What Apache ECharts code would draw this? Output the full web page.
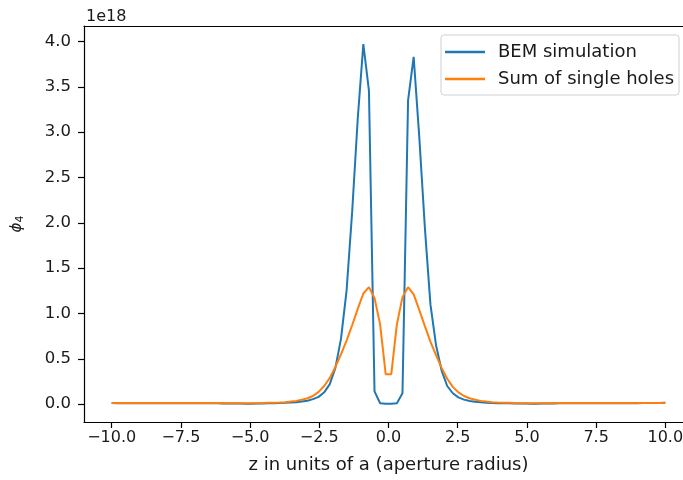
<!DOCTYPE html>
<html>
<head>
<meta charset="utf-8">
<script src="https://cdn.jsdelivr.net/npm/echarts@6/dist/echarts.min.js"></script>
<style>html,body{margin:0;padding:0;background:#fff}#c{width:683px;height:480px}</style>
</head>
<body>
<div id="c"></div>
<script>
// z positions (units of aperture radius a), 100 samples from -10 to 10
const zValues = [-10.000,-9.798,-9.596,-9.394,-9.192,-8.990,-8.788,-8.586,-8.384,-8.182,
  -7.980,-7.778,-7.576,-7.374,-7.172,-6.970,-6.768,-6.566,-6.364,-6.162,
  -5.960,-5.758,-5.556,-5.354,-5.152,-4.949,-4.747,-4.545,-4.343,-4.141,
  -3.939,-3.737,-3.535,-3.333,-3.131,-2.929,-2.727,-2.525,-2.323,-2.121,
  -1.919,-1.717,-1.515,-1.313,-1.111,-0.909,-0.707,-0.505,-0.303,-0.101,
  0.101,0.303,0.505,0.707,0.909,1.111,1.313,1.515,1.717,1.919,
  2.121,2.323,2.525,2.727,2.929,3.131,3.333,3.535,3.737,3.939,
  4.141,4.343,4.545,4.747,4.949,5.152,5.354,5.556,5.758,5.960,
  6.162,6.364,6.566,6.768,6.970,7.172,7.374,7.576,7.778,7.980,
  8.182,8.384,8.586,8.788,8.990,9.192,9.394,9.596,9.798,10.000];

// phi_4 values in units of 1e18
const bemValues = [0.012,0.011,0.011,0.010,0.010,0.010,0.010,0.010,0.010,0.010,
  0.010,0.010,0.010,0.010,0.010,0.010,0.009,0.009,0.009,0.009,
  0.008,0.008,0.007,0.006,0.005,0.005,0.006,0.007,0.009,0.011,
  0.013,0.015,0.018,0.022,0.028,0.038,0.055,0.080,0.130,0.220,
  0.400,0.720,1.250,2.120,3.150,3.970,3.460,0.140,0.010,0.005,
  0.005,0.010,0.120,3.350,3.830,2.950,1.950,1.100,0.650,0.370,
  0.200,0.120,0.075,0.050,0.035,0.026,0.020,0.016,0.013,0.011,
  0.010,0.009,0.008,0.007,0.006,0.005,0.005,0.006,0.007,0.008,
  0.009,0.010,0.010,0.010,0.010,0.010,0.010,0.010,0.010,0.010,
  0.010,0.010,0.011,0.011,0.011,0.012,0.012,0.012,0.013,0.014];

const sumValues = [0.012,0.012,0.012,0.012,0.012,0.012,0.012,0.012,0.012,0.012,
  0.012,0.012,0.012,0.012,0.012,0.012,0.012,0.012,0.012,0.012,
  0.011,0.011,0.010,0.010,0.010,0.010,0.011,0.012,0.014,0.016,
  0.018,0.022,0.028,0.036,0.048,0.065,0.090,0.135,0.200,0.290,
  0.410,0.550,0.700,0.870,1.050,1.220,1.290,1.170,0.880,0.330,
  0.330,0.880,1.180,1.290,1.210,1.040,0.860,0.690,0.540,0.400,
  0.280,0.190,0.130,0.090,0.065,0.048,0.036,0.028,0.022,0.018,
  0.016,0.014,0.012,0.011,0.010,0.010,0.010,0.010,0.011,0.011,
  0.012,0.012,0.012,0.012,0.012,0.012,0.012,0.012,0.012,0.012,
  0.012,0.012,0.012,0.012,0.012,0.012,0.012,0.012,0.013,0.014];

const seriesNames = ['BEM simulation', 'Sum of single holes'];
const xTicks = [-10, -7.5, -5, -2.5, 0, 2.5, 5, 7.5, 10];
const yTicks = [0, 0.5, 1, 1.5, 2, 2.5, 3, 3.5, 4];

const FONT = 'DejaVu Sans';
const TXT = '#1a1a1a';
const fmt = v => (v < 0 ? '\u2212' : '') + Math.abs(v).toFixed(1);

const chart = echarts.init(document.getElementById('c'), null, {renderer: 'canvas'});
chart.setOption({
  animation: false,
  backgroundColor: '#fff',
  textStyle: {fontFamily: FONT},
  title: {text: '1e18', left: 81, top: 4, textStyle: {fontFamily: FONT, fontSize: 16, fontWeight: 'normal', color: TXT}},
  grid: {left: 84, top: 26, width: 609, height: 396, outerBoundsMode: 'none', containLabel: false},
  legend: {
    data: seriesNames, orient: 'vertical', left: 441, top: 35,
    icon: 'rect', itemWidth: 40, itemHeight: 2.5, itemGap: 9, padding: [8, 5, 7, 4],
    borderColor: '#d0d0d0', borderWidth: 1, borderRadius: 3, backgroundColor: 'rgba(255,255,255,0.8)',
    textStyle: {fontFamily: FONT, fontSize: 18, color: TXT, lineHeight: 18, padding: [0, 0, 0, 8]}
  },
  xAxis: [{
    type: 'value', min: -11, max: 11,
    name: 'z in units of a (aperture radius)', nameLocation: 'middle', nameGap: 34,
    nameTextStyle: {fontFamily: FONT, fontSize: 18, color: TXT},
    axisLine: {show: true, onZero: false, lineStyle: {color: '#000', width: 1.2}},
    axisTick: {show: true, inside: false, length: 6, customValues: xTicks, lineStyle: {color: '#000', width: 1.2}},
    axisLabel: {show: true, customValues: xTicks, formatter: fmt, margin: 8, fontFamily: FONT, fontSize: 16, color: TXT},
    splitLine: {show: false}
  }, {
    type: 'value', min: -11, max: 11, position: 'top',
    axisLine: {show: true, onZero: false, lineStyle: {color: '#000', width: 1.2}},
    axisTick: {show: false}, axisLabel: {show: false}, splitLine: {show: false}
  }],
  yAxis: {
    type: 'value', min: -0.197, max: 4.17,
    name: '{p|\u03D5}{s|4}', nameLocation: 'middle', nameRotate: 90, nameGap: 58,
    nameTextStyle: {rich: {
      p: {fontFamily: FONT, fontSize: 15, fontStyle: 'italic', color: TXT},
      s: {fontFamily: FONT, fontSize: 11, color: TXT, verticalAlign: 'bottom', padding: [6, 0, 0, 0]}
    }},
    axisLine: {show: true, onZero: false, lineStyle: {color: '#000', width: 1.2}},
    axisTick: {show: true, inside: false, length: 6, customValues: yTicks, lineStyle: {color: '#000', width: 1.2}},
    axisLabel: {show: true, customValues: yTicks, formatter: fmt, margin: 13, fontFamily: FONT, fontSize: 16.5, color: TXT},
    splitLine: {show: false}
  },
  series: [
    {name: seriesNames[0], type: 'line', symbol: 'none', showSymbol: false, xAxisIndex: 0,
      data: zValues.map((z, i) => [z, bemValues[i]]), lineStyle: {color: '#1f77b4', width: 2}, itemStyle: {color: '#1f77b4'}},
    {name: seriesNames[1], type: 'line', symbol: 'none', showSymbol: false, xAxisIndex: 0,
      data: zValues.map((z, i) => [z, sumValues[i]]), lineStyle: {color: '#ff7f0e', width: 2}, itemStyle: {color: '#ff7f0e'}}
  ]
});
</script>
</body>
</html>
